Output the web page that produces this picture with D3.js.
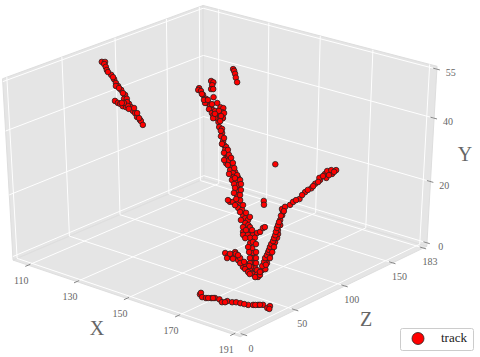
<!DOCTYPE html>
<html>
<head>
<meta charset="utf-8">
<script src="https://cdn.jsdelivr.net/npm/d3@7"></script>
<style>
body { margin: 0; background: #fff; }
text { font-family: "Liberation Serif", serif; font-variant-numeric: oldstyle-nums; }
</style>
</head>
<body>
<div id="chart"></div>
<script>
var svgWidth = 480;
var svgHeight = 357;

// Tick labels of the three axes.
var xTicks = [110, 130, 150, 170, 191];
var yTicks = [0, 20, 40, 55];
var zTicks = [0, 50, 100, 150, 183];

// Track points, one branch after the other.
var trackX = [
    107.6, 108.4, 108.5, 109.2, 109.9, 111.6, 112.8, 113.7, 114.6, 114.1, 115.9, 117.5, 117.8, 118.4, 119.6, 116, 116.9, 117.6, 118.4, 119.3, 120.4, 121.4, 122.2, 123.2, 124.3, 124.6, 125.6,
    110.4, 112.3, 115.1, 116.7, 118.9, 119.6, 121.3, 122.7, 123.8, 118.3, 120.2, 117.8,
    138.7, 139.2, 139.8, 140.5, 141.4,
    133.5, 133.6, 134.3, 135.3, 136.5, 137.3, 138.4, 139.6, 136.9, 138.6, 134.9, 136.2, 137.1, 138.6, 139.8,
    135.3, 136, 136.1, 136.4, 136.9, 138.1, 139.7, 141, 141.8,
    140.5, 141.4, 141.8, 142.2, 141.7, 142.9, 142.6, 143, 140.3, 142.3, 141.1, 142.6, 140.8, 142.8, 140.6, 142.3,
    143.4, 144.3, 144.9, 145, 146.2, 147, 147.7, 147.9, 149.1, 149.2, 149.5, 150.8, 149.9, 150.1, 151.8, 153.1, 151.7, 152.8, 153.5, 154.7, 153.5, 154.9, 155.7, 156.3, 156.7, 156, 156.7, 157.9, 158.1, 157.1, 158.8, 159.9, 160.8, 161.7, 162.6, 162.4, 163.4, 163.1, 164.3, 163.5, 164.6, 165.8, 166.4, 167, 167.1, 167.4, 165.5, 166.6, 166.2, 167.4, 168.3, 169, 169.6, 170.8,
    144.3, 146, 146.3, 148.5, 148, 149.4, 149, 150.3, 150.5, 151.4, 152.4, 152, 154, 153.9, 155.4, 154.5, 156.1, 155.3, 156.9, 155.7, 157.4, 155.3, 159.4, 157.6, 159.7, 161.2, 161, 162.6, 162.4, 164, 163.5, 164.9, 164.4, 166.7, 166.3, 167.7, 167.2, 168.8, 168.2, 169.6, 168.9, 170.3, 169.7,
    161.9, 163, 164.1, 164, 165.2, 165.8, 166.9, 167.8, 169, 169.8, 170.8, 171.3, 171.4, 172, 172.6, 166, 167.9, 169.1,
    163, 163.1, 164.4, 164.4, 166.7, 168.6, 169.7, 165.1, 167.4, 170.3, 172, 172.8,
    172.6, 173.3, 172.8, 172.4, 172.4, 172, 171.8, 171.8, 171.7, 171.4, 170.8, 170.7, 170, 169.8, 169.5, 168.9, 169.3, 170.2, 170.5, 171.6, 171.9, 172.8, 173.1, 173.7, 173.3, 174.9, 174, 175.6, 174.1, 174.9, 176,
    172.4, 172.1, 172, 171.7, 171.7, 171.6, 171.5, 171.3, 171.2, 171.2, 171, 170.9, 170.6, 170.3, 170.2, 170, 169.6, 169.6, 172.8, 172.8, 172.5, 172.2,
    170.9, 171.6, 172.2, 172.9, 173.5, 173.8, 175, 175.8,
    161.3, 163.6, 164.2,
    171.4, 171.5, 172.3, 173.3, 174.5, 175.3, 176.5, 177.4, 178.5, 179.7, 180.6, 181.7, 183.7, 184.8, 185.9, 187, 188.4, 188.7,
    173.8, 174.9, 178.1, 182.7, 185.3, 186.3, 189
];
var trackY = [
    51.9, 51.9, 51.4, 50.7, 50, 48.9, 47.8, 46.9, 46.2, 46.2, 45.3, 44.1, 43.2, 43.2, 42, 42.7, 42.2, 42, 41.4, 41.2, 41.2, 40.3, 39.8, 38.9, 38.2, 37.9, 37,
    49.5, 48.3, 45.7, 44.5, 42.4, 41.5, 41, 39.8, 38.6, 42.2, 40.8, 42.2,
    50.2, 49.8, 49.1, 48.2, 47.1,
    45.7, 45.3, 45, 44.1, 43.2, 42.2, 41.4, 40.5, 42.2, 40.7, 44.3, 42.9, 42.9, 41.9, 39.8,
    47.4, 47.1, 46.4, 45.5, 45.5, 43.6, 42.2, 41.2, 41,
    39.3, 39.3, 39.8, 40, 38.6, 38.6, 37.7, 38.6, 40.3, 38.9, 40.3, 39.8, 38.6, 37.9, 39.6, 39.1,
    36.5, 36.1, 35.1, 34.3, 33.2, 32.2, 31.8, 31.1, 29.9, 29.2, 29.4, 27.9, 27.9, 28.6, 27, 25.9, 26.3, 25.6, 24.7, 24.5, 24, 23.5, 22.8, 21.6, 20.4, 18.8, 18.8, 18.8, 19.2, 19.5, 17.4, 16.9, 15.6, 14.9, 14.5, 13.8, 13.3, 11.7, 11.7, 11, 11, 11, 11.4, 11.7, 12.6, 12.8, 10.3, 10.3, 9, 7.8, 6.7, 5.5, 4.3, 3.1,
    35.6, 33.9, 32.5, 31.1, 30.4, 29.9, 28.7, 29.2, 27.5, 28, 26.8, 25.4, 25.1, 24.4, 24, 23, 23, 22.1, 21.6, 20.9, 20.4, 19.2, 18, 18, 16.4, 16.2, 14.5, 15.2, 12.8, 12.8, 12.1, 12.1, 10.2, 9.3, 8.1, 8.8, 6.9, 6.9, 5.5, 5.5, 4.3, 4.3, 3.4,
    6.7, 6, 5.7, 6.9, 5.7, 5, 4.6, 3.4, 3.1, 2.6, 1.9, 1.7, 2.6, 1.5, 1, 5.5, 4.1, 3.6,
    5.5, 6.5, 5.3, 6.5, 4.3, 2.9, 2.2, 6.2, 4.6, 1.7, 1, 1.5,
    2.6, 2.9, 4.3, 5.5, 6.2, 7.8, 8.5, 9.2, 10.3, 11.2, 12.1, 13.3, 14.5, 15.6, 16.4, 17.1, 17.6, 18.1, 18.8, 19.5, 21.1, 22, 23.1, 24, 24.5, 24.5, 25.4, 25.4, 26.1, 26.3, 26.3,
    2.2, 3.6, 4.6, 5.5, 6.2, 6.9, 7.4, 8.1, 8.8, 9.5, 10.2, 10.9, 11.7, 12.6, 13.3, 14, 15.5, 16.6, 3.9, 5.5, 6.9, 8.1,
    19.2, 20.4, 21.6, 22.5, 23.5, 24.9, 25.1, 25.9,
    27.7, 19, 18.1,
    3.3, 3.7, 2.7, 2.5, 2.5, 2.5, 2.2, 1.5, 1.8, 1.5, 1.5, 1.3, 0.9, 0.9, 0.9, 0.9, 0.2, 0.6,
    2.5, 2.5, 1.5, 1.1, 0.9, 0.9, 0
];
var trackZ = [
    77.8, 79, 77.9, 77.7, 77, 76.9, 76.8, 76.3, 76.1, 75.3, 75.9, 75.8, 74, 75.2, 74.3, 69.6, 70.2, 70.7, 71.2, 72.1, 74.2, 73.6, 73.7, 73.1, 73.3, 73.4, 72.8,
    76.8, 77, 75.8, 75.7, 74.2, 73.2, 75, 74.5, 73.6, 72.6, 72.6, 71.8,
    128.7, 128.4, 127.8, 126.8, 125.8,
    108.3, 107.2, 108.1, 107.6, 107.4, 106.4, 106.6, 106.4, 105.6, 105.2, 107.5, 106.3, 107.9, 108.1, 105,
    115.6, 116, 114.6, 112.8, 113.6, 110.9, 110.5, 110.4, 111.2,
    104.7, 106.4, 108.3, 109.4, 105.4, 107.4, 104.4, 107.8, 107, 106.9, 108.6, 109.9, 103.7, 105.6, 106, 107.7,
    103.1, 103.6, 102.2, 100.8, 99.9, 98.9, 99.1, 97.6, 96.7, 95.3, 96.4, 95.3, 93.6, 95.9, 94.7, 94.2, 92.9, 93, 91.7, 93.3, 90.2, 91.6, 90.9, 89.2, 87.1, 81.9, 83.1, 85.1, 86.6, 85.3, 83, 84, 82.7, 82.5, 83, 80.8, 81.3, 76.9, 78.9, 75.9, 77.9, 79.9, 82.3, 83.8, 86.4, 87.5, 77.7, 79.7, 76, 75, 73.7, 72, 70.3, 69.4,
    102.5, 101.3, 98.5, 98.8, 96.2, 97.6, 93.8, 97.4, 93.7, 96.4, 95.2, 91.1, 94, 92.1, 93.4, 89.7, 92.5, 88.7, 90.4, 86.6, 88.3, 81.7, 86.2, 82.9, 82.5, 84.6, 80.1, 84.9, 78.6, 81.4, 78.8, 81.2, 75.7, 77.5, 73.8, 78, 72.5, 75.3, 70.8, 73.2, 69.1, 71.5, 68.1,
    62.3, 62.5, 63.9, 66.8, 65.9, 65.2, 66.1, 64.9, 66.2, 66.7, 66.5, 66.9, 69.6, 67.9, 67.6, 66.7, 66.8, 67.7,
    61.4, 64.1, 63.6, 66.5, 65, 65, 65.2, 66.9, 67, 65.3, 66.3, 69.1,
    71.6, 73.1, 76, 78.1, 79.9, 83.2, 84.7, 86.5, 88.7, 90.4, 91.8, 94.3, 96, 98.5, 100, 100.6, 102.6, 105.3, 107.5, 111, 115.8, 119.6, 122.7, 126, 126.3, 129.1, 130.1, 133, 132, 134, 136,
    70.1, 73, 75.1, 76.9, 78.7, 80.2, 81.3, 82.7, 84.2, 86, 87.5, 88.9, 90.3, 92.1, 93.5, 94.9, 97.8, 100.7, 74.9, 78.9, 81.9, 84.4,
    109.4, 113.6, 117.7, 121.2, 124.6, 128.6, 131.5, 134.5,
    113.2, 96, 94.7,
    13.9, 14.6, 13.7, 14.9, 16.9, 18.5, 19.8, 20, 22.3, 24, 25.6, 26.9, 29.4, 31.4, 33.4, 35.4, 36, 37.8,
    15.7, 17.7, 21.2, 28.1, 32.2, 34.2, 36.4
];

var svg = d3.select("#chart")
    .append("svg")
    .attr("width", svgWidth)
    .attr("height", svgHeight);

// Data to unit cube.
var xUnit = d3.scaleLinear().domain([110, 191]).range([0.07, 0.97]);
var yUnit = d3.scaleLinear().domain([0, 55]).range([0.02, 0.965]);
var zUnit = d3.scaleLinear().domain([0, 183]).range([0.02, 0.98]);

// View plane to screen.
var screenX = d3.scaleLinear().domain([0, 1]).range([221, 522]);
var screenY = d3.scaleLinear().domain([0, 1]).range([163.2, -49.8]);

// Same perspective camera as mplot3d, elev 30, azim -50, dist 10.
var elev = 30 * Math.PI / 180;
var azim = -50 * Math.PI / 180;
var dist = 10;
var n = [Math.cos(elev) * Math.cos(azim), Math.cos(elev) * Math.sin(azim), Math.sin(elev)];
var u = [-Math.sin(azim), Math.cos(azim), 0];
var v = [n[1] * u[2] - n[2] * u[1], n[2] * u[0] - n[0] * u[2], n[0] * u[1] - n[1] * u[0]];

// a along X, b along Z, c up along Y, all in unit cube.
function project(a, b, c) {
    var d = [a - 0.5, b - 0.5, c - 0.5];
    var f = dist / (dist - d3.sum(d, (e, i) => e * n[i]));
    return [
        screenX(f * d3.sum(d, (e, i) => e * u[i])),
        screenY(f * d3.sum(d, (e, i) => e * v[i]))
    ];
}

var line3 = d3.line();

function drawPath(points, stroke, width, fill) {
    svg.append("path")
        .attr("d", line3(points.map(p => project(p[0], p[1], p[2]))) + (fill ? "Z" : ""))
        .attr("fill", fill || "none")
        .attr("stroke", stroke)
        .attr("stroke-width", width);
}

// Panes.
var paneColor = "#e5e5e5";
var edgeColor = "#dedede";
var paneTop = 0.98;
drawPath([[0, 0, 0], [0, 1, 0], [0, 1, paneTop], [0, 0, paneTop]], edgeColor, 1, paneColor);
drawPath([[0, 1, 0], [1, 1, 0], [1, 1, paneTop], [0, 1, paneTop]], edgeColor, 1, paneColor);
drawPath([[0, 0, 0], [1, 0, 0], [1, 1, 0], [0, 1, 0]], edgeColor, 1, paneColor);

// Grid lines.
var gridColor = "#ffffff";
xTicks.forEach(function(t) {
    var a = xUnit(t);
    drawPath([[a, 0, 0], [a, 1, 0], [a, 1, paneTop]], gridColor, 1);
});
zTicks.forEach(function(t) {
    var b = zUnit(t);
    drawPath([[1, b, 0], [0, b, 0], [0, b, paneTop]], gridColor, 1);
});
yTicks.forEach(function(t) {
    var c = yUnit(t);
    drawPath([[0, 0, c], [0, 1, c], [1, 1, c]], gridColor, 1);
});

// Tick marks and labels.
var tickColor = "#555555";
var labelColor = "#666666";

function tickLabel(pos, dx, dy, txt) {
    svg.append("text")
        .attr("x", pos[0] + dx)
        .attr("y", pos[1] + dy)
        .attr("text-anchor", "middle")
        .attr("dominant-baseline", "middle")
        .attr("font-size", "10px")
        .attr("fill", labelColor)
        .text(txt);
}

xTicks.forEach(function(t) {
    var a = xUnit(t);
    drawPath([[a, 0.012, 0], [a, -0.014, 0]], tickColor, 0.7);
    tickLabel(project(a, -0.014, 0), -4, 15, t);
});
zTicks.forEach(function(t) {
    var b = zUnit(t);
    drawPath([[0.985, b, 0], [1.012, b, 0]], tickColor, 0.7);
    tickLabel(project(1.012, b, 0), 4, 14, t);
});
yTicks.forEach(function(t) {
    var c = yUnit(t);
    drawPath([[0.985, 1, c], [1.012, 1, c]], tickColor, 0.7);
    tickLabel(project(1.012, 1, c), 11, 4, t);
});

// Axis names.
var axisNames = [["X", 97, 330], ["Z", 366, 321], ["Y", 465, 156]];
axisNames.forEach(function(d) {
    svg.append("text")
        .attr("x", d[1])
        .attr("y", d[2])
        .attr("text-anchor", "middle")
        .attr("dominant-baseline", "middle")
        .attr("font-size", "20px")
        .attr("fill", "#666666")
        .text(d[0]);
});

// Track.
svg.append("g").selectAll("circle")
    .data(trackX.map((x, i) => project(xUnit(x), zUnit(trackZ[i]), yUnit(trackY[i]))))
    .enter()
    .append("circle")
    .attr("cx", d => d[0])
    .attr("cy", d => d[1])
    .attr("r", 2.8)
    .attr("fill", "#ff0000")
    .attr("stroke", "#222222")
    .attr("stroke-width", 0.8);

// Legend.
var legend = svg.append("g");
legend.append("rect")
    .attr("x", 400.5)
    .attr("y", 328.5)
    .attr("width", 73)
    .attr("height", 22)
    .attr("rx", 2)
    .attr("fill", "#ffffff")
    .attr("stroke", "#cccccc");
legend.append("circle")
    .attr("cx", 418)
    .attr("cy", 338.5)
    .attr("r", 6)
    .attr("fill", "#ff0000")
    .attr("stroke", "#222222")
    .attr("stroke-width", 0.8);
legend.append("text")
    .attr("x", 441)
    .attr("y", 342)
    .attr("font-size", "13px")
    .attr("fill", "#222222")
    .text("track");

console.log(trackX.length, trackY.length, trackZ.length);
</script>
</body>
</html>
